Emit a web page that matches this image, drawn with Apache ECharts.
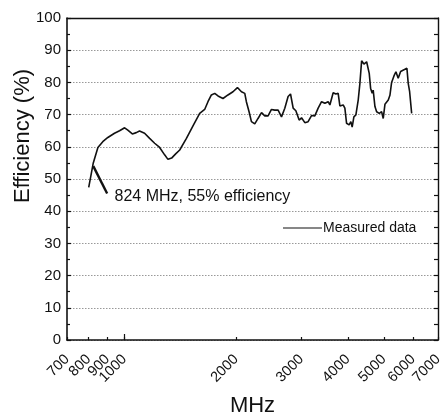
<!DOCTYPE html>
<html>
<head>
<meta charset="utf-8">
<script src="https://cdn.jsdelivr.net/npm/echarts@6/dist/echarts.min.js"></script>
<style>
  html, body { margin: 0; padding: 0; background: #fff; }
  #chart { width: 440px; height: 416px; }
</style>
</head>
<body>
<div id="chart"></div>
<script>
// Measured antenna efficiency versus frequency
const freqMHz = [801, 824, 848, 874, 902, 940, 970, 1001, 1021, 1050,
  1076, 1098, 1133, 1169, 1206, 1244, 1283, 1310, 1324, 1340,
  1374, 1409, 1469, 1530, 1595, 1645, 1679, 1715, 1751, 1787,
  1843, 1901, 1961, 2016, 2067, 2110, 2131, 2167, 2199, 2245,
  2291, 2341, 2389, 2438, 2490, 2542, 2595, 2650, 2705, 2761,
  2803, 2849, 2897, 2957, 3001, 3063, 3126, 3193, 3259, 3327,
  3398, 3469, 3540, 3578, 3652, 3714, 3767, 3807, 3886, 3927,
  3969, 4033, 4076, 4109, 4153, 4205, 4266, 4311, 4357, 4420,
  4495, 4568, 4607, 4653, 4682, 4733, 4783, 4861, 4933, 4983,
  5036, 5089, 5141, 5194, 5249, 5326, 5391, 5468, 5551, 5620,
  5684, 5772, 5819, 5870, 5944];
const efficiency = [47.4, 55.0, 59.8, 61.6, 62.9, 64.2, 65.0, 65.9, 65.2, 64.0,
  64.4, 64.9, 64.2, 62.6, 61.1, 59.8, 57.5, 56.1, 56.0, 56.5,
  57.8, 59.0, 62.6, 66.5, 70.4, 71.6, 74.0, 76.1, 76.6, 75.8,
  75.0, 76.1, 77.1, 78.4, 77.1, 76.6, 74.0, 70.9, 67.8, 67.1,
  68.8, 70.6, 69.6, 69.6, 71.6, 71.4, 71.4, 69.3, 72.0, 75.6,
  76.4, 72.0, 71.2, 68.3, 69.0, 67.5, 67.8, 69.7, 69.6, 72.0,
  74.0, 73.5, 74.0, 73.0, 76.8, 76.4, 76.6, 72.7, 73.0, 72.0,
  67.3, 66.8, 67.8, 66.1, 69.3, 69.9, 74.5, 79.7, 86.7, 85.7,
  86.4, 82.8, 78.2, 76.6, 77.6, 72.5, 70.9, 70.4, 70.9, 68.8,
  73.2, 73.5, 74.5, 76.0, 80.0, 82.0, 83.3, 81.3, 83.4, 82.8,
  84.0, 84.4, 79.7, 77.1, 70.4];

// Axis ticks
const xTickValues = [700, 800, 900, 1000, 2000, 3000, 4000, 5000, 6000, 7000];
const xDecadeTicks = [1000];
const yMin = 0, yMax = 100, yStep = 10;

// Highlighted point
const markFreq = 824, markEff = 55;
const markText = '824 MHz, 55% efficiency';
const seriesName = 'Measured data';

const FONT = '"Liberation Sans", Arial, sans-serif';
const INK = '#111';

const chart = echarts.init(document.getElementById('chart'), null, { renderer: 'canvas' });

const baseLog = { type: 'log', logBase: 10, min: 700, max: 7000 };

chart.setOption({
  animation: false,
  backgroundColor: '#fff',
  grid: { left: 67, right: 2, top: 18, bottom: 76, containLabel: false, outerBoundsMode: 'none' },
  legend: {
    left: 283, top: 221, padding: 0,
    itemWidth: 39, itemHeight: 14, itemGap: 4,
    textStyle: { fontFamily: FONT, fontSize: 14, color: INK, padding: [0, 0, 0, -4] },
    data: [{ name: seriesName, icon: 'path://M0,0 L40,0 L40,1 L0,1 Z' }]
  },
  xAxis: [
    Object.assign({}, baseLog, {
      position: 'bottom',
      name: 'MHz', nameLocation: 'middle', nameGap: 55,
      nameTextStyle: { fontFamily: FONT, fontSize: 22, color: INK },
      axisLine: { show: true, onZero: false, lineStyle: { color: INK, width: 1.6 } },
      axisTick: { show: true, inside: true, length: 3, customValues: xTickValues,
        lineStyle: { color: INK, width: 1.2 } },
      minorTick: { show: false },
      axisLabel: { show: true, customValues: xTickValues, rotate: 45, margin: 17,
        fontFamily: FONT, fontSize: 14.5, color: INK,
        formatter: v => String(Math.round(v)) },
      splitLine: { show: false }
    }),
    Object.assign({}, baseLog, {
      position: 'bottom',
      axisLine: { show: false },
      axisTick: { show: true, inside: true, length: 6, customValues: xDecadeTicks,
        lineStyle: { color: INK, width: 1.2 } },
      axisLabel: { show: false },
      splitLine: { show: false }
    }),
    Object.assign({}, baseLog, {
      position: 'top',
      axisLine: { show: true, onZero: false, lineStyle: { color: INK, width: 1.4 } },
      axisTick: { show: false },
      axisLabel: { show: false },
      splitLine: { show: false }
    })
  ],
  yAxis: [
    {
      type: 'value', min: yMin, max: yMax, interval: yStep, position: 'left',
      axisLine: { show: true, onZero: false, lineStyle: { color: INK, width: 1.6 } },
      axisTick: { show: true, inside: true, length: 4, lineStyle: { color: INK, width: 1.2 } },
      minorTick: { show: true, splitNumber: 2, length: 3, lineStyle: { color: INK, width: 1.2 } },
      axisLabel: { fontFamily: FONT, fontSize: 15, color: INK, margin: 6 },
      splitLine: { show: true, lineStyle: { color: '#999', width: 1, type: [1.5, 1.5] } }
    },
    {
      type: 'value', min: yMin, max: yMax, interval: yStep, position: 'right',
      axisLine: { show: true, onZero: false, lineStyle: { color: INK, width: 1.4 } },
      axisTick: { show: true, inside: true, length: 4, lineStyle: { color: INK, width: 1.2 } },
      minorTick: { show: true, splitNumber: 2, length: 4, lineStyle: { color: INK, width: 1.2 } },
      axisLabel: { show: false },
      splitLine: { show: false }
    }
  ],
  graphic: [{
    type: 'text',
    x: 23, y: 136, rotation: Math.PI / 2,
    style: { text: 'Efficiency (%)', font: '22px ' + FONT, fill: INK,
      textAlign: 'center', textVerticalAlign: 'middle' }
  }],
  series: [{
    name: seriesName,
    type: 'line',
    xAxisIndex: 0, yAxisIndex: 0,
    data: freqMHz.map((f, i) => [f, efficiency[i]]),
    symbol: 'none',
    lineStyle: { color: INK, width: 1.6 },
    itemStyle: { color: INK },
    markLine: {
      silent: true, symbol: ['none', 'none'],
      lineStyle: { color: INK, width: 2.4, type: 'solid' },
      label: { show: false },
      data: [[{ coord: [markFreq, markEff - 1] }, { coord: [898, 45.5] }]]
    },
    markPoint: {
      silent: true,
      symbol: 'circle', symbolSize: 0,
      label: { show: true, position: 'inside', align: 'left', verticalAlign: 'middle',
        fontFamily: FONT, fontSize: 16, color: INK, formatter: markText },
      data: [{ coord: [940, 44.6] }]
    }
  }]
});
</script>
</body>
</html>
